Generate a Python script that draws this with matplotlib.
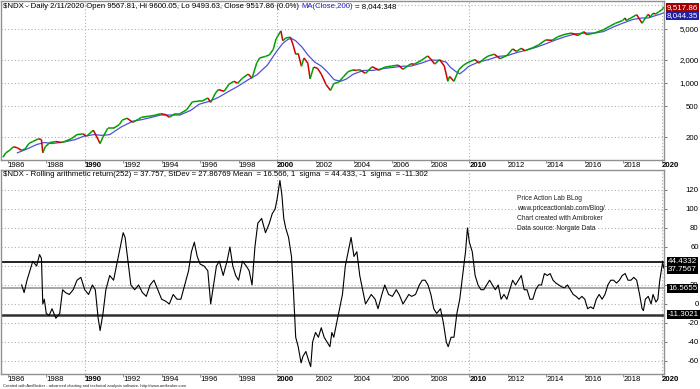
import matplotlib
matplotlib.use("Agg")
import matplotlib.pyplot as plt
from matplotlib.collections import LineCollection
from matplotlib.ticker import FixedLocator, NullLocator
import numpy as np

plt.rcParams['font.family'] = ['Liberation Sans', 'DejaVu Sans']

# ---------------- data ----------------
price_t = [1985.75, 1985.9, 1986.1, 1986.3, 1986.5, 1986.7, 1986.9, 1987.1, 1987.3, 1987.6, 1987.75, 1987.82,
           1987.95, 1988.2, 1988.5, 1988.8, 1988.95, 1989.3, 1989.6, 1989.9, 1990.1, 1990.45, 1990.8, 1990.95,
           1991.2, 1991.5, 1991.8, 1991.95, 1992.2, 1992.5, 1992.8, 1992.95, 1993.3, 1993.6, 1993.95, 1994.2,
           1994.4, 1994.7, 1994.95, 1995.3, 1995.6, 1995.9, 1996.1, 1996.4, 1996.55, 1996.8, 1996.95, 1997.25,
           1997.5, 1997.75, 1997.95, 1998.2, 1998.5, 1998.7, 1998.95, 1999.1, 1999.4, 1999.6, 1999.8, 1999.95,
           2000.2, 2000.3, 2000.45, 2000.7, 2000.85, 2000.97, 2001.1, 2001.27, 2001.4, 2001.6, 2001.72, 2001.9,
           2002.1, 2002.3, 2002.55, 2002.78, 2002.95, 2003.2, 2003.45, 2003.7, 2003.95, 2004.15, 2004.35, 2004.6,
           2004.95, 2005.3, 2005.6, 2005.95, 2006.3, 2006.55, 2006.95, 2007.15, 2007.5, 2007.83, 2007.95, 2008.2,
           2008.45, 2008.7, 2008.88, 2008.97, 2009.2, 2009.45, 2009.7, 2009.97, 2010.3, 2010.5, 2010.7, 2010.97,
           2011.3, 2011.6, 2011.97, 2012.25, 2012.45, 2012.7, 2012.9, 2012.97, 2013.3, 2013.6, 2013.97, 2014.3,
           2014.6, 2014.97, 2015.3, 2015.65, 2015.95, 2016.1, 2016.5, 2016.97, 2017.3, 2017.6, 2017.97, 2018.1,
           2018.15, 2018.4, 2018.7, 2018.98, 2019.05, 2019.3, 2019.4, 2019.55, 2019.7, 2019.85, 2019.99, 2020.05,
           2020.11]
price_v = [110, 125, 135, 150, 145, 135, 140, 165, 175, 190, 185, 125,
           150, 170, 175, 170, 175, 190, 215, 220, 205, 245, 165, 200,
           260, 260, 290, 330, 350, 310, 340, 360, 370, 380, 400, 390,
           360, 400, 400, 450, 570, 580, 580, 640, 560, 740, 820, 780,
           960, 1050, 990, 1150, 1300, 1150, 1830, 2100, 2200, 2300, 2700, 3700,
           4700, 3500, 3800, 3900, 3000, 2340, 2400, 1640, 2100, 1800, 1130, 1600,
           1550, 1300, 950, 800, 980, 1020, 1200, 1400, 1470, 1450, 1450, 1330,
           1620, 1460, 1600, 1650, 1700, 1500, 1760, 1750, 1950, 2230, 2085, 1750,
           2000, 1650, 1050, 1210, 1050, 1480, 1700, 1860, 2000, 1800, 2000, 2220,
           2350, 2050, 2280, 2750, 2550, 2800, 2600, 2660, 2850, 3100, 3590, 3550,
           3950, 4240, 4400, 4100, 4590, 4200, 4400, 4860, 5400, 5900, 6400, 6900,
           6400, 6900, 7600, 5900, 6330, 7700, 7100, 7900, 7800, 8300, 8730, 9100,
           9517.86]

ma_t = [1986.5, 1987.0, 1987.5, 1987.9, 1988.3, 1988.9, 1989.5, 1989.95, 1990.5, 1990.9, 1991.3, 1991.9,
        1992.5, 1992.95, 1993.5, 1993.95, 1994.5, 1994.95, 1995.5, 1995.95, 1996.5, 1996.95, 1997.5, 1997.95,
        1998.5, 1998.95, 1999.5, 1999.95, 2000.3, 2000.6, 2000.8, 2000.97, 2001.3, 2001.6, 2001.97, 2002.3,
        2002.6, 2002.97, 2003.3, 2003.6, 2003.97, 2004.5, 2004.97, 2005.5, 2005.97, 2006.5, 2006.97, 2007.5,
        2007.97, 2008.5, 2008.8, 2009.0, 2009.3, 2009.5, 2009.75, 2009.97, 2010.5, 2010.97, 2011.5, 2011.97,
        2012.5, 2012.97, 2013.5, 2013.97, 2014.5, 2014.97, 2015.5, 2015.97, 2016.5, 2016.97, 2017.5, 2017.97,
        2018.5, 2018.97, 2019.3, 2019.6, 2019.97, 2020.11]
ma_v = [125, 140, 160, 170, 165, 172, 185, 205, 215, 210, 215, 270,
        320, 335, 360, 385, 385, 385, 440, 530, 580, 650, 780, 900,
        1100, 1270, 1700, 2500, 3250, 3700, 3700, 3500, 2900, 2300, 1850, 1650,
        1400, 1100, 1050, 1120, 1300, 1450, 1450, 1530, 1580, 1640, 1650, 1800,
        1980, 1950, 1850, 1600, 1400, 1310, 1460, 1640, 1870, 1990, 2200, 2250,
        2480, 2650, 2900, 3200, 3600, 3950, 4300, 4400, 4400, 4600, 5300, 5900,
        6600, 6900, 6900, 7300, 7800, 8044.348]

ret_t = [1986.72, 1986.85, 1987.0, 1987.15, 1987.3, 1987.5, 1987.65, 1987.75, 1987.82, 1987.9, 1988.0, 1988.15,
         1988.3, 1988.5, 1988.7, 1988.85, 1989.0, 1989.2, 1989.4, 1989.6, 1989.8, 1990.0, 1990.2, 1990.4,
         1990.55, 1990.7, 1990.8, 1990.95, 1991.1, 1991.3, 1991.5, 1991.7, 1991.85, 1992.0, 1992.1, 1992.25,
         1992.4, 1992.6, 1992.8, 1993.0, 1993.2, 1993.4, 1993.6, 1993.8, 1994.0, 1994.2, 1994.4, 1994.6,
         1994.8, 1995.0, 1995.2, 1995.4, 1995.55, 1995.7, 1995.85, 1996.0, 1996.2, 1996.4, 1996.55, 1996.7,
         1996.85, 1997.0, 1997.2, 1997.4, 1997.55, 1997.7, 1997.85, 1998.0, 1998.2, 1998.4, 1998.55, 1998.7,
         1998.85, 1999.0, 1999.2, 1999.4, 1999.6, 1999.75, 1999.9, 2000.0, 2000.15, 2000.25, 2000.35, 2000.45,
         2000.6, 2000.75, 2000.85, 2000.97, 2001.1, 2001.25, 2001.35, 2001.5, 2001.65, 2001.75, 2001.85, 2002.0,
         2002.15, 2002.3, 2002.45, 2002.6, 2002.75, 2002.85, 2002.95, 2003.1, 2003.25, 2003.4, 2003.55, 2003.7,
         2003.85, 2004.0, 2004.15, 2004.3, 2004.45, 2004.6, 2004.75, 2004.9, 2005.1, 2005.25, 2005.45, 2005.6,
         2005.8, 2006.0, 2006.2, 2006.35, 2006.55, 2006.7, 2006.85, 2007.0, 2007.2, 2007.4, 2007.55, 2007.7,
         2007.85, 2008.0, 2008.15, 2008.3, 2008.5, 2008.65, 2008.8, 2008.9, 2009.05, 2009.2, 2009.35, 2009.5,
         2009.65, 2009.8, 2009.9, 2010.0, 2010.15, 2010.3, 2010.45, 2010.6, 2010.75, 2010.9, 2011.05, 2011.2,
         2011.35, 2011.5, 2011.65, 2011.8, 2011.95, 2012.1, 2012.25, 2012.4, 2012.55, 2012.7, 2012.85, 2013.0,
         2013.15, 2013.3, 2013.45, 2013.6, 2013.75, 2013.9, 2014.05, 2014.2, 2014.35, 2014.5, 2014.65, 2014.8,
         2014.95, 2015.1, 2015.25, 2015.4, 2015.55, 2015.7, 2015.85, 2016.0, 2016.15, 2016.3, 2016.45, 2016.6,
         2016.75, 2016.9, 2017.05, 2017.2, 2017.35, 2017.5, 2017.65, 2017.8, 2017.95, 2018.1, 2018.25, 2018.4,
         2018.55, 2018.7, 2018.85, 2018.98, 2019.05, 2019.15, 2019.3, 2019.45, 2019.55, 2019.7, 2019.8, 2019.9,
         2020.0, 2020.05, 2020.11]
ret_v = [20, 12, 25, 35, 45, 40, 52, 48, 0, 5, -10, -12,
         -5, -15, -10, 15, 12, 10, 15, 25, 28, 15, 10, 20,
         15, -15, -28, -10, 15, 30, 25, 45, 60, 75, 70, 45,
         20, 15, 20, 12, 8, 20, 25, 15, 5, 3, 0, 10,
         5, 5, 20, 35, 55, 65, 50, 42, 40, 35, 0, 20,
         40, 45, 30, 45, 60, 40, 30, 25, 45, 40, 35, 20,
         60, 85, 90, 75, 85, 95, 100, 110, 130, 115, 90, 80,
         70, 50, 15, -35, -45, -62, -55, -50, -60, -66, -40, -30,
         -35, -25, -35, -40, -45, -30, -35, -20, -5, 10, 40, 55,
         70, 50, 55, 30, 15, 0, 5, 10, 5, -5, 10, 20,
         10, 8, 15, 10, 0, 5, 10, 8, 10, 20, 25, 25,
         20, 10, -5, -10, -5, -20, -40, -45, -35, -35, -10, 5,
         30, 55, 80, 65, 55, 30, 20, 15, 15, 20, 25, 20,
         15, 20, 5, 10, 5, 15, 25, 20, 25, 30, 15, 15,
         5, 5, 15, 20, 20, 32, 30, 32, 25, 22, 20, 18,
         17, 20, 15, 10, 8, 5, 8, 5, -5, -3, -5, 5,
         10, 5, 10, 20, 25, 25, 22, 25, 30, 32, 25, 25,
         28, 25, 10, -5, -7, 5, 8, 0, 10, 2, 5, 25,
         38, 44, 37.7567]

band_levels = [44.4332, 16.5655, -11.3021]
band_labels = ['44.4332', '16.5655', '-11.3021']
last_ret_label = '37.7567'
price_labels = ['9,517.86', '8,044.35']

price_ticks = [200, 500, 1000, 2000, 5000]
price_tick_labels = ['200', '500', '1,000', '2,000', '5,000']
ret_ticks = [-60, -40, -20, 0, 20, 40, 60, 80, 100, 120]
year_ticks = list(range(1986, 2021, 2))
bold_years = [1990, 2000, 2010, 2020]

title_top_a = "$NDX - Daily 2/11/2020 Open 9567.81, Hi 9600.05, Lo 9493.63, Close 9517.86 (0.0%) "
title_top_b = "MA(Close,200)"
title_top_c = " = 8,044.348"
title_bot = ("$NDX - Rolling arithmetic return(252) = 37.757, StDev = 27.86769 Mean  = 16.566, "
             "1  sigma  = 44.433, -1  sigma  = -11.302")
note = "Price Action Lab BLog\nwww.priceactionlab.com/Blog/\nChart created with Amibroker\nData source: Norgate Data"
footer = "Created with AmiBroker - advanced charting and technical analysis software. http://www.amibroker.com"

# ---------------- layout ----------------
W, H = 700, 389
fig = plt.figure(figsize=(W / 100, H / 100), dpi=100)
fig.patch.set_facecolor('white')

def fy(px):
    return 1 - px / H

XL = (1985.65, 2020.12)
right = 664 / W
ax1 = fig.add_axes([0.0015, fy(160), right - 0.0015, fy(1) - fy(160)])
ax2 = fig.add_axes([0.0015, fy(374), right - 0.0015, fy(170) - fy(374)])

grid_kw = dict(color='#b0b0b0', linestyle=(0, (1, 2)), linewidth=0.8)
spine_col = '#909090'
FS = 5.6

for ax in (ax1, ax2):
    ax.set_xlim(*XL)
    for s in ax.spines.values():
        s.set_color(spine_col)
        s.set_linewidth(1.0)
    ax.yaxis.tick_right()
    ax.tick_params(axis='y', direction='out', length=2, width=0.6, colors='#606060',
                   labelsize=FS, labelcolor='black', pad=23)
    ax.xaxis.set_major_locator(FixedLocator(year_ticks))
    ax.set_xticklabels([str(y) for y in year_ticks])
    ax.tick_params(axis='x', direction='out', length=2, width=0.6, colors='#808080',
                   labelsize=FS, labelcolor='black', pad=-0.5)
    for lbl, yr in zip(ax.get_xticklabels(), year_ticks):
        lbl.set_ha('left')
        if yr in bold_years:
            lbl.set_fontweight('bold')
    for yr in bold_years:
        ax.axvline(yr, zorder=0, **grid_kw)

# ---------------- top panel ----------------
ax1.set_yscale('log')
ax1.set_ylim(101, 11430)
ax1.yaxis.set_major_locator(FixedLocator(price_ticks))
ax1.yaxis.set_minor_locator(NullLocator())
ax1.set_yticklabels(price_tick_labels)
for lbl in ax1.get_yticklabels():
    lbl.set_ha('right')
for v in price_ticks + [10000]:
    ax1.axhline(v, zorder=0, **grid_kw)

pt = np.array(price_t)
pv = np.array(price_v)
segs = np.stack([np.column_stack([pt[:-1], pv[:-1]]), np.column_stack([pt[1:], pv[1:]])], axis=1)
cols = ['#00a000' if b >= a else '#d00000' for a, b in zip(pv[:-1], pv[1:])]
ax1.add_collection(LineCollection(segs, colors=cols, linewidths=1.1, zorder=3))
ax1.plot(ma_t, ma_v, color='#5050d8', linewidth=0.9, zorder=2)

t1 = ax1.text(0.003, 0.99, title_top_a, transform=ax1.transAxes, fontsize=FS, va='top', ha='left')
fig.canvas.draw()
inv = ax1.transAxes.inverted()
x_b = inv.transform((t1.get_window_extent().x1, 0))[0]
t2 = ax1.text(x_b, 0.99, title_top_b, transform=ax1.transAxes, fontsize=FS, va='top', ha='left',
              color='#2020c0')
fig.canvas.draw()
x_c = inv.transform((t2.get_window_extent().x1, 0))[0]
ax1.text(x_c, 0.99, title_top_c, transform=ax1.transAxes, fontsize=FS, va='top', ha='left')

# price value boxes
ytr1 = ax1.get_yaxis_transform()
ax1.text(1.004, price_v[-1], price_labels[0], transform=ytr1, fontsize=5.8,
         color='white', va='center', ha='left',
         bbox=dict(boxstyle='square,pad=0.12', fc='#a00000', ec='none'), clip_on=False)
ax1.text(1.004, ma_v[-1] * 0.93, price_labels[1], transform=ytr1, fontsize=5.8,
         color='white', va='center', ha='left',
         bbox=dict(boxstyle='square,pad=0.12', fc='#2020a0', ec='none'), clip_on=False)

# ---------------- bottom panel ----------------
ax2.set_ylim(-73.7, 141)
ax2.yaxis.set_major_locator(FixedLocator(ret_ticks))
ax2.set_yticklabels([str(v) for v in ret_ticks])
for lbl in ax2.get_yticklabels():
    lbl.set_ha('right')
for v in ret_ticks:
    ax2.axhline(v, zorder=0, **grid_kw)

ax2.plot(ret_t, ret_v, color='black', linewidth=0.8, zorder=3)
ax2.axhline(band_levels[0], color='#101010', linewidth=1.3, zorder=2)
ax2.axhline(band_levels[1], color='#909090', linewidth=1.1, zorder=2)
ax2.axhline(band_levels[2], color='#303030', linewidth=1.8, zorder=2)

ytr = ax2.get_yaxis_transform()
for lev, lab in zip(band_levels, band_labels):
    ax2.text(1.006, lev, lab, transform=ytr, fontsize=5.8, color='white', va='center', ha='left',
             bbox=dict(boxstyle='square,pad=0.12', fc='black', ec='none'), clip_on=False)
ax2.text(1.006, ret_v[-1] - 1, last_ret_label, transform=ytr, fontsize=5.8, color='white', va='center',
         ha='left', bbox=dict(boxstyle='square,pad=0.12', fc='black', ec='none'), clip_on=False)

ax2.text(0.003, 0.995, title_bot, transform=ax2.transAxes, fontsize=FS, va='top', ha='left')
ax2.text(517 / 664, 0.875, note, transform=ax2.transAxes, fontsize=4.8, va='top', ha='left',
         linespacing=1.6, color='#202020')

fig.text(0.004, fy(386), footer, fontsize=2.9, va='center', ha='left', color='#202020')

fig.savefig('out.png', dpi=100, facecolor='white')
